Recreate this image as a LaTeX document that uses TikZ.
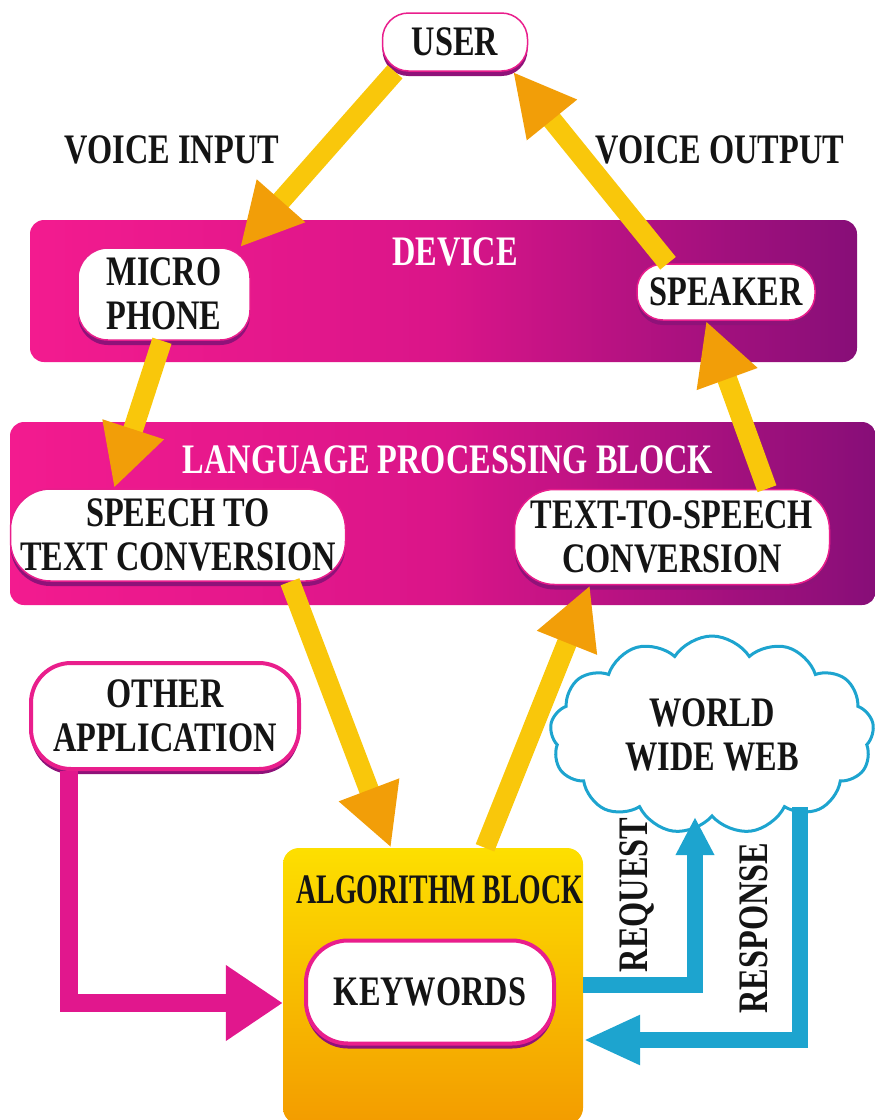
\documentclass[tikz,border=0pt]{standalone}
\usepackage{fontspec}
\setmainfont{Liberation Serif}[FakeStretch=0.77]
\usetikzlibrary{
    arrows.meta,
    positioning,
    shapes.symbols,
    shadows,
}
\definecolor{bandpink}{HTML}{F31B8F}
\definecolor{bandmid}{HTML}{DA1589}
\definecolor{bandpurple}{HTML}{870E78}
\definecolor{pillpink}{HTML}{E91E8C}
\definecolor{pillshadow}{HTML}{8F1279}
\definecolor{arryellow}{HTML}{F9C70B}
\definecolor{arrorange}{HTML}{F29E08}
\definecolor{algotop}{HTML}{FDDF00}
\definecolor{algobot}{HTML}{F39C00}
\definecolor{appmag}{HTML}{E1178D}
\definecolor{webblue}{HTML}{1DA4CF}
\definecolor{inkblack}{HTML}{141414}

\begin{document}
\begin{tikzpicture}[
        x=1pt, y=-1pt,
        font=\fontsize{42}{44}\selectfont\bfseries,
        text=inkblack,
        band/.style={inner sep=0pt, rounded corners=14pt,
            left color=bandpink, right color=bandpurple, middle color=bandmid},
        title/.style={text=white},
        pill/.style={draw=pillpink, line width=1.5pt, fill=white, align=center,
            inner sep=0pt, rounded corners=30pt,
            drop shadow={shadow xshift=0pt, shadow yshift=-5pt, fill=pillshadow, opacity=1}},
        pillthick/.style={pill, line width=4pt},
        flow/.style={draw=arryellow, line width=20pt,
            -{Triangle[width=60pt, length=62pt, color=arrorange]}},
        appflow/.style={draw=appmag, line width=18pt,
            -{Triangle[width=72pt, length=57pt]}},
        webflow/.style={draw=webblue, line width=16pt,
            -{Triangle[width=36pt, length=38pt]}},
    ]
        \useasboundingbox (0,0) rectangle (875,1120);

        % Bands
        \node[band, minimum width=827pt, minimum height=142pt] (device) at (443.5,291) {};
        \node[title] (devtitle) at (455,252) {DEVICE};
        \node[band, minimum width=866pt, minimum height=183pt] (lpb) at (443,513.5) {};
        \node[title] (lpbtitle) at (448,460) {LANGUAGE PROCESSING BLOCK};

        % Algorithm block
        \node[inner sep=0pt, rounded corners=16pt, top color=algotop, bottom color=algobot,
            minimum width=300pt, minimum height=276pt] (algo) at (433,986) {};
        \node[xscale=0.86, transform shape] (algotitle) at (440,890) {ALGORITHM BLOCK};

        % Nodes
        \node[pill, minimum width=145pt, minimum height=58pt, rounded corners=26pt] (user) at (455,42) {USER};
        \node[pill, minimum width=172pt, minimum height=92pt] (mic) at (164,294) {MICRO\\PHONE};
        \node[pill, minimum width=178pt, minimum height=56pt, rounded corners=26pt] (speaker) at (726,292) {SPEAKER};
        \node[pill, minimum width=335pt, minimum height=92pt, rounded corners=40pt] (stt) at (178,535) {SPEECH TO\\TEXT CONVERSION};
        \node[pill, minimum width=315pt, minimum height=95pt, rounded corners=40pt] (tts) at (672,537) {TEXT-TO-SPEECH\\CONVERSION};
        \node[pillthick, minimum width=268pt, minimum height=106pt, rounded corners=40pt] (other) at (165,716) {OTHER\\APPLICATION};
        \node[pillthick, minimum width=248pt, minimum height=103pt, rounded corners=42pt] (keys) at (430,992) {KEYWORDS};
        \node[cloud, cloud puffs=13, cloud puff arc=115, aspect=1.7, draw=webblue, line width=3pt,
            fill=white, align=center, minimum width=324pt, minimum height=198pt, inner sep=0pt] (www) at (712,735) {WORLD\\WIDE WEB};

        % Voice path
        \draw[flow] ([xshift=-60pt]user.south) -- ([xshift=76pt]mic.north);
        \draw[flow] ([xshift=-58pt]speaker.north) -- ([xshift=58pt]user.south);
        \draw[flow] ([xshift=-2pt]mic.south) -- ([xshift=-64pt]stt.north);
        \draw[flow] ([xshift=95pt]tts.north) -- ([xshift=-20pt]speaker.south);
        \draw[flow] ([xshift=112pt]stt.south) -- ([xshift=-42pt]algo.north);
        \draw[flow] ([xshift=52pt]algo.north) -- ([xshift=-82pt]tts.south);

        % Side inputs
        \draw[appflow] ([xshift=-96pt]other.south) |- ([yshift=-11pt]keys.west -| algo.west);
        \draw[webflow] ([yshift=7pt]keys.east -| algo.east) -| ([xshift=-17pt,yshift=-82pt]www.center);
        \draw[webflow, -{Triangle[width=46pt, length=57pt]}] ([xshift=88pt,yshift=-72pt]www.center) |- ([yshift=-48pt]keys.east -| algo.east);

        % Labels
        \node (vin) at (172,150) {VOICE INPUT};
        \node (vout) at (720,150) {VOICE OUTPUT};
        \node[rotate=90] (req) at (637,895) {REQUEST};
        \node[rotate=90] (resp) at (754,928) {RESPONSE};
    \end{tikzpicture}
\end{document}
